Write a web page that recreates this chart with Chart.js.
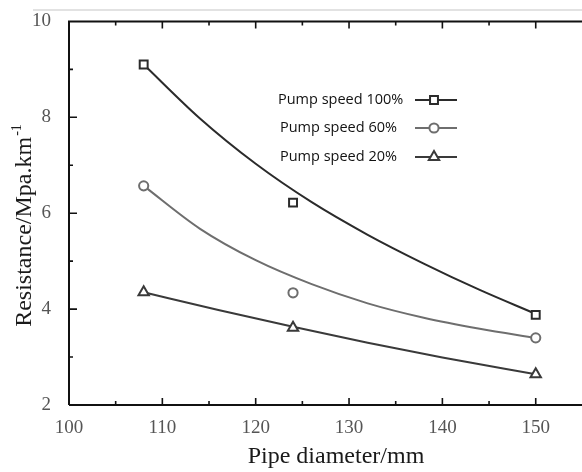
<!DOCTYPE html>
<html>
<head>
<meta charset="utf-8">
<script src="https://cdn.jsdelivr.net/npm/chart.js@4.4.0/dist/chart.umd.min.js"></script>
<style>
  body { margin: 0; background: #fff; }
  #wrap { width: 582px; height: 472px; }
</style>
</head>
<body>
<div id="wrap"><canvas id="resistChart" width="582" height="472"></canvas></div>
<script>
// valores medidos
const pipeDiameter = [108, 124, 150];
const speed100 = [9.1, 6.22, 3.88];
const speed60 = [6.57, 4.34, 3.40];
const speed20 = [4.35, 3.61, 2.64];

// curvas ajustadas
const fit100X = [108, 114, 120, 126, 132, 138, 144, 150];
const fit100Y = [9.10, 7.98, 7.03, 6.23, 5.55, 4.95, 4.40, 3.90];
const fit60X = [108, 114, 120, 126, 132, 138, 144, 150];
const fit60Y = [6.57, 5.68, 5.02, 4.52, 4.12, 3.82, 3.59, 3.40];
const fit20X = [108, 116, 124, 132, 140, 150];
const fit20Y = [4.35, 3.98, 3.63, 3.30, 2.99, 2.64];

const legendLabels = ['Pump speed 100%', 'Pump speed 60%', 'Pump speed 20%'];
const xTitle = 'Pipe diameter/mm';
const yTitle = 'Resistance/Mpa.km';
const yTitleSup = '-1';

const toPts = (xs, ys) => xs.map((x, i) => ({ x, y: ys[i] }));

const styles = [
  { color: '#2b2b2b', pointStyle: 'rect', radius: 5.6 },
  { color: '#6e6e6e', pointStyle: 'circle', radius: 4.6 },
  { color: '#3a3a3a', pointStyle: 'triangle', radius: 6 }
];

function markerSet(data, s) {
  return {
    data,
    showLine: false,
    pointStyle: s.pointStyle,
    pointRadius: s.radius,
    pointBorderWidth: 2,
    pointBorderColor: s.color,
    pointBackgroundColor: '#fff'
  };
}

function fitSet(data, s) {
  return {
    data,
    showLine: true,
    borderColor: s.color,
    borderWidth: 2,
    pointRadius: 0,
    tension: 0.4,
    cubicInterpolationMode: 'monotone'
  };
}

// moldura, ticks internos, títulos e legenda
const framePlugin = {
  id: 'frame',
  afterDatasetsDraw(chart) {
    const { ctx, chartArea: a, scales: { x, y } } = chart;
    ctx.save();

    // linha cinza clara no topo
    ctx.strokeStyle = '#e2e2e2';
    ctx.lineWidth = 2;
    ctx.beginPath();
    ctx.moveTo(33, 10);
    ctx.lineTo(chart.width, 10);
    ctx.stroke();

    ctx.strokeStyle = '#111';
    ctx.lineWidth = 2;
    ctx.beginPath();
    ctx.moveTo(a.left, a.bottom);
    ctx.lineTo(a.left, a.top);
    ctx.lineTo(chart.width, a.top);
    ctx.moveTo(a.left, a.bottom);
    ctx.lineTo(chart.width, a.bottom);
    ctx.stroke();

    ctx.lineWidth = 1.6;
    ctx.beginPath();
    for (let v = 105; v <= 155; v += 5) {
      const px = x.getPixelForValue(v);
      if (px > chart.width) break;
      const len = v % 10 === 0 ? 7 : 4;
      ctx.moveTo(px, a.bottom);
      ctx.lineTo(px, a.bottom - len);
      ctx.moveTo(px, a.top);
      ctx.lineTo(px, a.top + len);
    }
    for (let v = 3; v < 10; v++) {
      const py = y.getPixelForValue(v);
      const len = v % 2 === 0 ? 8 : 4;
      ctx.moveTo(a.left, py);
      ctx.lineTo(a.left + len, py);
    }
    ctx.stroke();

    // títulos dos eixos
    ctx.fillStyle = '#1a1a1a';
    ctx.textBaseline = 'alphabetic';
    ctx.font = '24px "Liberation Serif"';
    ctx.textAlign = 'center';
    ctx.fillText(xTitle, 336, 463);

    ctx.save();
    ctx.translate(31, 226);
    ctx.rotate(-Math.PI / 2);
    const mainW = ctx.measureText(yTitle).width;
    ctx.font = '14px "Liberation Serif"';
    const supW = ctx.measureText(yTitleSup).width;
    const startX = -(mainW + supW) / 2;
    ctx.textAlign = 'left';
    ctx.font = '24px "Liberation Serif"';
    ctx.fillText(yTitle, startX, 0);
    ctx.font = '14px "Liberation Serif"';
    ctx.fillText(yTitleSup, startX + mainW + 1, -10);
    ctx.restore();

    // legenda
    const rows = [100, 128, 157];
    ctx.font = '14.5px "Open Sans"';
    ctx.textBaseline = 'middle';
    ctx.textAlign = 'left';
    legendLabels.forEach((label, i) => {
      const s = styles[i];
      const yy = rows[i];
      ctx.fillStyle = '#111';
      ctx.fillText(label, i === 0 ? 278 : 280, yy);
      ctx.strokeStyle = s.color;
      ctx.lineWidth = 2;
      ctx.beginPath();
      ctx.moveTo(415, yy);
      ctx.lineTo(457, yy);
      ctx.stroke();
      ctx.fillStyle = '#fff';
      Chart.helpers.drawPoint(ctx, {
        pointStyle: s.pointStyle,
        radius: s.radius,
        rotation: 0,
        borderWidth: 2
      }, 434, yy);
    });

    ctx.restore();
  }
};

const ctx = document.getElementById('resistChart').getContext('2d');
new Chart(ctx, {
  type: 'scatter',
  data: {
    datasets: [
      markerSet(toPts(pipeDiameter, speed100), styles[0]),
      markerSet(toPts(pipeDiameter, speed60), styles[1]),
      markerSet(toPts(pipeDiameter, speed20), styles[2]),
      fitSet(toPts(fit100X, fit100Y), styles[0]),
      fitSet(toPts(fit60X, fit60Y), styles[1]),
      fitSet(toPts(fit20X, fit20Y), styles[2])
    ]
  },
  options: {
    responsive: false,
    animation: false,
    layout: { padding: { top: 21, right: 0, left: 0, bottom: 0 } },
    plugins: {
      legend: { display: false },
      tooltip: { enabled: false }
    },
    scales: {
      x: {
        type: 'linear',
        min: 100,
        max: 154.1,
        grid: { display: false },
        border: { display: false },
        ticks: {
          stepSize: 10,
          includeBounds: false,
          padding: 4,
          color: '#555',
          font: { family: '"Liberation Serif"', size: 19 }
        },
        afterFit(scale) { scale.height = 67; }
      },
      y: {
        min: 2,
        max: 10,
        grid: { display: false },
        border: { display: false },
        ticks: {
          stepSize: 2,
          padding: 10,
          color: '#555',
          font: { family: '"Liberation Serif"', size: 19 }
        },
        afterFit(scale) { scale.width = 69; }
      }
    }
  },
  plugins: [framePlugin]
});
</script>
</body>
</html>
